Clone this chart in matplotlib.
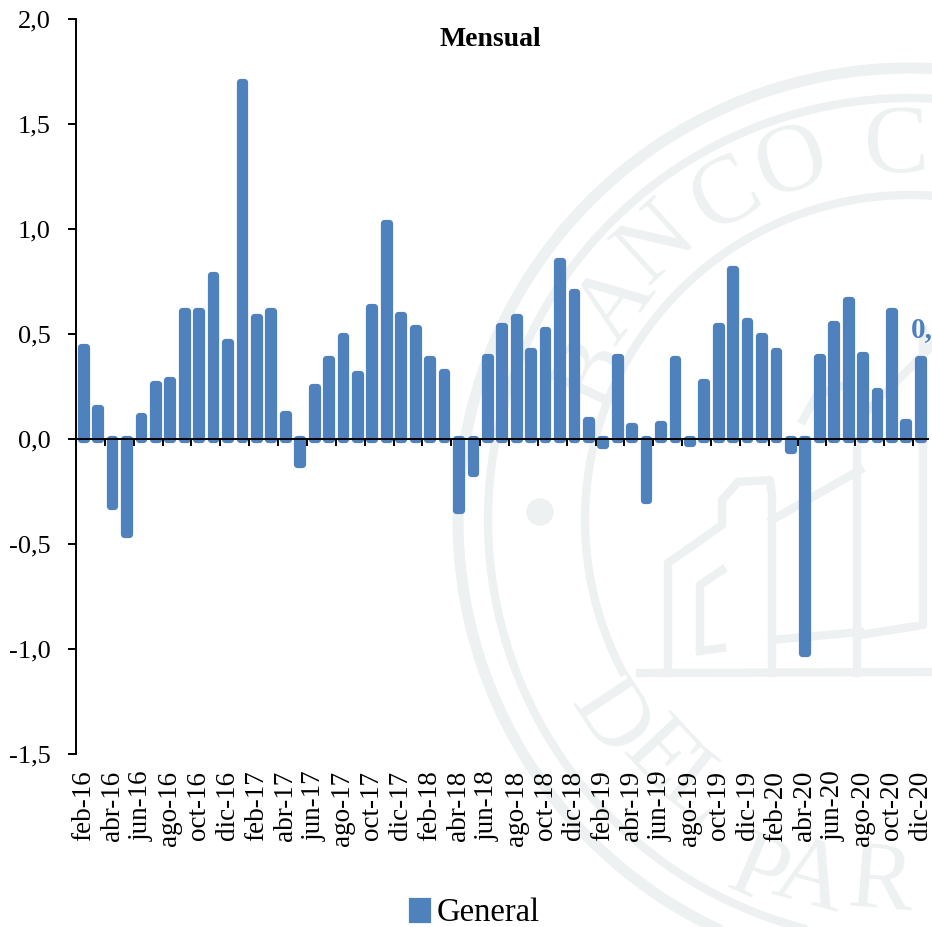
import numpy as np
import matplotlib
matplotlib.use("Agg")
import matplotlib.pyplot as plt

plt.rcParams['font.family'] = ['Liberation Serif', 'DejaVu Serif']

# variacion mensual, feb-16 a dic-20
values = [0.44, 0.15, -0.32, -0.45, 0.11, 0.26, 0.28, 0.61, 0.61, 0.78, 0.46, 1.70,
          0.58, 0.61, 0.12, -0.12, 0.25, 0.38, 0.49, 0.31, 0.63, 1.03, 0.59, 0.53,
          0.38, 0.32, -0.34, -0.16, 0.39, 0.54, 0.58, 0.42, 0.52, 0.85, 0.70, 0.09,
          -0.03, 0.39, 0.06, -0.29, 0.07, 0.38, -0.02, 0.27, 0.54, 0.81, 0.56, 0.49,
          0.42, -0.05, -1.02, 0.39, 0.55, 0.66, 0.40, 0.23, 0.61, 0.08, 0.38]
tick_labels = ['feb-16', 'abr-16', 'jun-16', 'ago-16', 'oct-16', 'dic-16',
               'feb-17', 'abr-17', 'jun-17', 'ago-17', 'oct-17', 'dic-17',
               'feb-18', 'abr-18', 'jun-18', 'ago-18', 'oct-18', 'dic-18',
               'feb-19', 'abr-19', 'jun-19', 'ago-19', 'oct-19', 'dic-19',
               'feb-20', 'abr-20', 'jun-20', 'ago-20', 'oct-20', 'dic-20']
y_ticks = [-1.5, -1.0, -0.5, 0.0, 0.5, 1.0, 1.5, 2.0]
y_labels = ['-1,5', '-1,0', '-0,5', '0,0', '0,5', '1,0', '1,5', '2,0']

blue = '#4F81BD'
mark = '#EEF1F1'
W, H = 932, 927
fig = plt.figure(figsize=(W / 100, H / 100), dpi=100)

# sello de fondo, en pixeles de la figura
bg = fig.add_axes([0, 0, 1, 1], zorder=0)
bg.set_xlim(0, W)
bg.set_ylim(H, 0)
bg.axis('off')
cx, cy = 910, 520
t = np.linspace(0, 2 * np.pi, 720)
bg.plot(cx + 452 * np.cos(t), cy + 452 * np.sin(t), color=mark, lw=8)
bg.plot(cx + 422 * np.cos(t), cy + 422 * np.sin(t), color=mark, lw=6)
ring = cy + 325 * np.sin(t)
bg.plot(cx + 325 * np.cos(t), np.where(ring <= 672, ring, np.nan), color=mark, lw=6)
bg.plot([640, 932], [673, 672], color=mark, lw=6)
bg.add_patch(plt.Circle((540, 512), 13, color=mark))
for xs, ys in [([668, 668, 722, 722, 738, 770, 772, 772], [673, 563, 525, 500, 482, 480, 495, 673]),
               ([700, 700, 722], [651, 585, 570]),
               ([700, 722], [651, 648]),
               ([772, 860], [520, 470]),
               ([772, 860], [640, 632]),
               ([857, 857], [673, 440]),
               ([860, 923, 923], [635, 625, 330]),
               ([867, 932], [411, 346]),
               ([803, 817, 845], [420, 395, 385])]:
    bg.plot(xs, ys, color=mark, lw=6, solid_joinstyle='round')
for ch, x, y in [('B', 593, 373), ('A', 617, 304), ('N', 657, 245), ('C', 727, 197),
                 ('O', 793, 165), ('C', 897, 149),
                 ('D', 607, 720), ('E', 657, 758), ('L', 695, 792),
                 ('P', 757, 876), ('A', 810, 880), ('R', 880, 885)]:
    ang = np.degrees(np.arctan2(y - cy, x - cx))
    rot = -ang - 90 if y < cy else 90 - ang
    bg.text(x, y, ch, color=mark, fontsize=70, rotation=rot, rotation_mode='anchor',
            ha='center', va='center', clip_on=True)

ax = fig.add_axes([76 / W, 1 - 754 / H, 851.5 / W, 735 / H], zorder=1)
ax.patch.set_alpha(0)

x = np.arange(len(values))
ax.bar(x, values, width=0.33, color=blue, edgecolor=blue, linewidth=5.2,
       joinstyle='round', label='General', zorder=2)

ax.set_xlim(-0.5, 58.5)
ax.set_ylim(-1.5, 2.0)
ax.set_yticks(y_ticks, y_labels, fontsize=19)
ax.set_xticks(x[::2], tick_labels, rotation=90, fontsize=19.5)
ax.tick_params(axis='x', length=0, pad=12)
ax.tick_params(axis='y', length=6, width=1.4, pad=12)
for s in ['top', 'right', 'bottom']:
    ax.spines[s].set_visible(False)
ax.spines['left'].set_linewidth(1.4)

# linea del cero con las marcas entre barras
zero = ax.secondary_xaxis(1.5 / 3.5)
zero.set_xticks(np.arange(-0.5, 58, 2), [])
zero.tick_params(axis='x', direction='out', length=5, width=1.4)
zero.spines['bottom'].set_linewidth(1.4)
zero.set_zorder(3)

fig.text(490 / W, 1 - 40 / H, 'Mensual', fontsize=20, fontweight='bold',
         ha='center', va='center')
fig.text(911 / W, 1 - 330 / H, '0,4', fontsize=21, fontweight='bold', color=blue,
         ha='left', va='center')

leg = ax.legend(loc='center', bbox_to_anchor=(476 / W, 1 - 913 / H),
                bbox_transform=fig.transFigure, frameon=False, fontsize=23.5,
                handlelength=0.47, handleheight=0.47, handletextpad=0.3)

fig.savefig('out.png', dpi=100)
